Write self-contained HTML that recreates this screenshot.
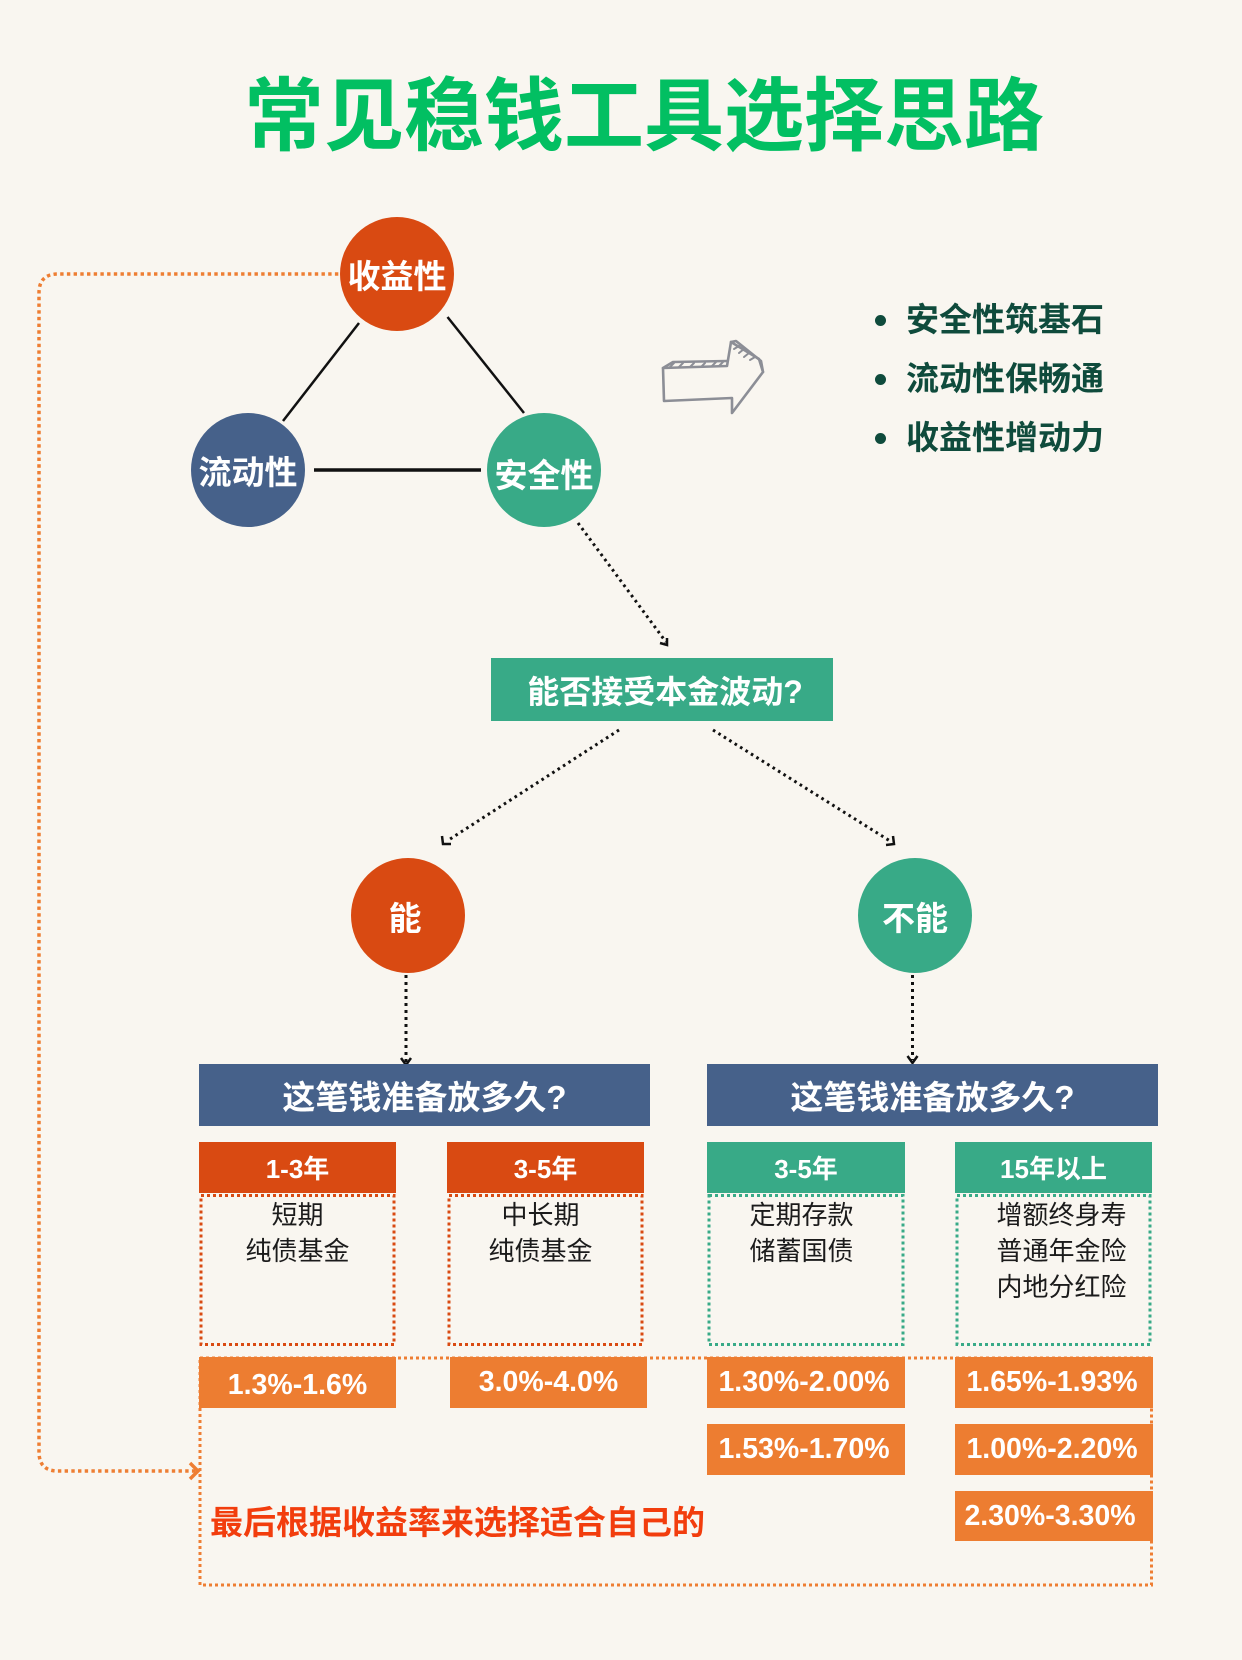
<!DOCTYPE html>
<html><head><meta charset="utf-8"><style>
*{margin:0;padding:0;box-sizing:border-box}
html,body{width:1242px;height:1660px;overflow:hidden;background:#F9F6F0}
body{position:relative;font-family:"Liberation Sans","Noto Sans CJK SC",sans-serif}
.a{position:absolute}
.c{position:absolute;border-radius:50%;display:flex;align-items:center;justify-content:center;color:#fff;font-weight:bold;font-size:33px;white-space:nowrap}
.box{position:absolute;display:flex;align-items:center;justify-content:center;color:#fff;font-weight:bold;white-space:nowrap}
.hd{font-size:26px;height:51px;top:1142px;width:197px}
.rt{font-size:28.5px;background:#ED7D31;width:197px;height:51px}
.ct{position:absolute;top:1197px;width:197px;text-align:center;font-size:26px;line-height:36px;color:#1b1b1b;white-space:nowrap}
.bl{position:absolute;left:906px;font-size:33px;font-weight:bold;color:#0F4B3C;line-height:40px;height:40px;white-space:nowrap}
.dot{position:absolute;left:875px;width:11px;height:11px;border-radius:50%;background:#0F4B3C}
</style></head><body>
<svg class="a" style="left:0;top:0;z-index:0" width="1242" height="1660" viewBox="0 0 1242 1660">
  <line x1="359" y1="323" x2="283" y2="421" stroke="#111" stroke-width="2.5"/>
  <line x1="447.5" y1="317" x2="524" y2="413" stroke="#111" stroke-width="2.5"/>
  <line x1="314" y1="470" x2="481" y2="470" stroke="#111" stroke-width="3.5"/>
  <path d="M345,274 L58,274 Q39,274 39,293 L39,1452 Q39,1471 58,1471 L196,1471" fill="none" stroke="#EE7E33" stroke-width="3.5" stroke-dasharray="3.4 3.3"/>
  <polyline points="190,1463 198,1471 190,1479" fill="none" stroke="#EE7E33" stroke-width="3.5"/>
  <rect x="200" y="1358" width="951.5" height="227" fill="none" stroke="#EE7E33" stroke-width="3" stroke-dasharray="3 3"/>
  <rect x="201" y="1195.5" width="193" height="149" fill="none" stroke="#D94A12" stroke-width="3" stroke-dasharray="3 3"/>
  <rect x="449" y="1195.5" width="193" height="149" fill="none" stroke="#D94A12" stroke-width="3" stroke-dasharray="3 3"/>
  <rect x="709" y="1195.5" width="194" height="149" fill="none" stroke="#38AA87" stroke-width="3" stroke-dasharray="3 3"/>
  <rect x="957" y="1195.5" width="193" height="149" fill="none" stroke="#38AA87" stroke-width="3" stroke-dasharray="3 3"/>
  <g stroke="#111" stroke-width="3" fill="none">
    <line x1="578" y1="523" x2="666" y2="642" stroke-dasharray="2.6 3.8"/>
    <polyline points="660,643 667,645 667,638" stroke-width="2.5"/>
    <line x1="619" y1="730" x2="447" y2="841" stroke-dasharray="2.6 3.8"/>
    <polyline points="442,836 443,844 451,844" stroke-width="2.5"/>
    <line x1="713" y1="730" x2="890" y2="841" stroke-dasharray="2.6 3.8"/>
    <polyline points="886,845 894,844 893,836" stroke-width="2.5"/>
    <line x1="406" y1="975" x2="406" y2="1062" stroke-dasharray="3 4"/>
    <polyline points="401,1058 406,1065 411,1058" stroke-width="2.5"/>
    <line x1="912.5" y1="975" x2="912.5" y2="1060" stroke-dasharray="3 4"/>
    <polyline points="907.5,1056 912.5,1063 917.5,1056" stroke-width="2.5"/>
  </g>
  <g stroke="#8C8E96" stroke-width="2.6" fill="none" stroke-linejoin="round" stroke-linecap="round">
    <path d="M663,368 L664,401 L732,398 L732,413 L763,372 L759,359 L731,342 L727,366 L663,368"/>
    <path d="M663,368 L673,362 L727,361"/>
    <path d="M731,342 L736,341 L761,361 L763,372"/>
    <path d="M670,367 L674,363 M679,367 L683,363 M690,367 L694,363 M701,367 L705,363 M712,366 L716,362 M719,366 L723,362" stroke-width="2"/>
    <path d="M734,349 L739,346 M739,353 L744,349 M744,357 L749,353 M750,360 L755,357" stroke-width="2"/>
  </g>
</svg>

<div class="a" style="left:244px;top:70px;font-size:80px;line-height:80px;height:80px;font-weight:bold;color:#02BF62;white-space:nowrap;font-family:'Noto Sans CJK SC',sans-serif">常见稳钱工具选择思路</div>

<div class="c" style="left:340px;top:217px;width:114px;height:114px;background:#D94A12">收益性</div>
<div class="c" style="left:191px;top:413px;width:114px;height:114px;background:#46618A">流动性</div>
<div class="c" style="left:487px;top:413px;width:114px;height:114px;background:#38AA87;padding-top:5px">安全性</div>

<div class="dot" style="top:315px"></div><div class="bl" style="top:300px">安全性筑基石</div>
<div class="dot" style="top:374px"></div><div class="bl" style="top:359px">流动性保畅通</div>
<div class="dot" style="top:433px"></div><div class="bl" style="top:418px">收益性增动力</div>

<div class="box" style="left:491px;top:658px;width:342px;height:63px;background:#38AA87;font-size:32px;padding-left:6px">能否接受本金波动?</div>

<div class="c" style="left:351px;top:858px;width:114px;height:115px;background:#D94A12;padding-right:6px">能</div>
<div class="c" style="left:858px;top:858px;width:114px;height:115px;background:#38AA87">不能</div>

<div class="box" style="left:199px;top:1064px;width:451px;height:62px;background:#46618A;font-size:33px">这笔钱准备放多久?</div>
<div class="box" style="left:707px;top:1064px;width:451px;height:62px;background:#46618A;font-size:33px">这笔钱准备放多久?</div>

<div class="box hd" style="left:199px;background:#D94A12">1-3年</div>
<div class="box hd" style="left:447px;background:#D94A12">3-5年</div>
<div class="box hd" style="left:707px;width:198px;background:#38AA87">3-5年</div>
<div class="box hd" style="left:955px;background:#38AA87">15年以上</div>

<div class="ct" style="left:199px">短期<br>纯债基金</div>
<div class="ct" style="left:442px">中长期<br>纯债基金</div>
<div class="ct" style="left:703px">定期存款<br>储蓄国债</div>
<div class="ct" style="left:963px">增额终身寿<br>普通年金险<br>内地分红险</div>

<div class="box rt" style="left:199px;top:1357px;padding-top:5px">1.3%-1.6%</div>
<div class="box rt" style="left:450px;top:1357px">3.0%-4.0%</div>
<div class="box rt" style="left:707px;top:1357px;width:198px;padding-right:4px">1.30%-2.00%</div>
<div class="box rt" style="left:955px;top:1357px;width:198px;padding-right:4px">1.65%-1.93%</div>
<div class="box rt" style="left:707px;top:1424px;width:198px;padding-right:4px">1.53%-1.70%</div>
<div class="box rt" style="left:955px;top:1424px;width:198px;padding-right:4px">1.00%-2.20%</div>
<div class="box rt" style="left:955px;top:1491px;width:198px;height:50px;padding-right:8px">2.30%-3.30%</div>

<div class="a" style="left:210px;top:1503px;font-size:33px;line-height:40px;font-weight:bold;color:#F23D0D;white-space:nowrap">最后根据收益率来选择适合自己的</div>
</body></html>
